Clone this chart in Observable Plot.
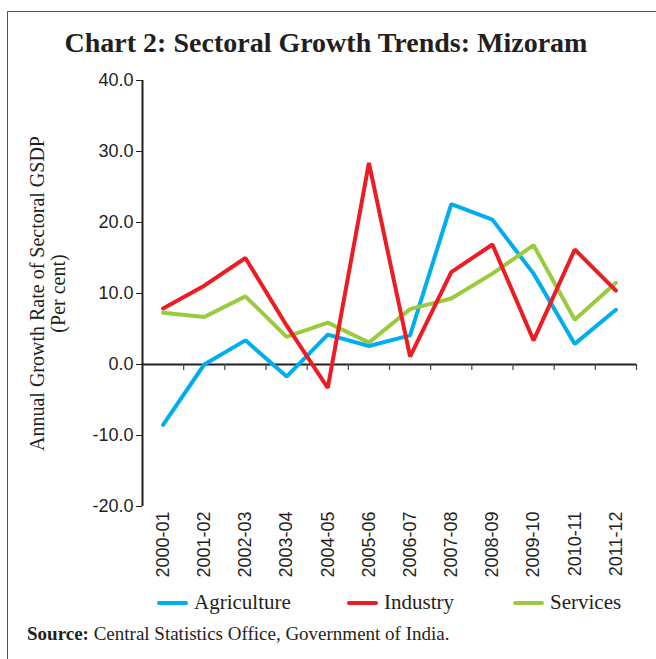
<!DOCTYPE html>
<html><head><meta charset="utf-8">
<script src="https://cdn.jsdelivr.net/npm/d3@7"></script>
<script src="https://cdn.jsdelivr.net/npm/@observablehq/plot@0.6"></script>
<style>
body{margin:0;background:#fff;}
#wrap{position:relative;width:656px;height:659px;overflow:hidden;}
#frame{position:absolute;left:7px;top:11px;width:700px;height:700px;border-top:1.5px solid #555;border-left:1.5px solid #555;}
#title{position:absolute;top:27px;left:0;width:652px;text-align:center;font:bold 28px "Liberation Serif";color:#231f20;}
#chart{position:absolute;left:0;top:0;}
#legend{position:absolute;top:590px;left:0;width:656px;height:28px;font:21px "Liberation Serif";color:#231f20;}
.item{position:absolute;top:0;display:flex;align-items:center;}
.sw{display:inline-block;width:31px;height:4px;border-radius:2px;margin-right:6px;}
#source{position:absolute;top:623px;left:27px;font:19px "Liberation Serif";color:#231f20;white-space:nowrap;}
</style>
</head><body>
<div id="wrap">
<div id="frame"></div>
<div id="title">Chart 2: Sectoral Growth Trends: Mizoram</div>
<div id="chart"></div>
<div id="legend"></div>
<div id="source"><b>Source:</b> Central Statistics Office, Government of India.</div>
</div>
<script>
const years = ["2000-01","2001-02","2002-03","2003-04","2004-05","2005-06","2006-07","2007-08","2008-09","2009-10","2010-11","2011-12"];
const agriculture = [-8.5, 0.0, 3.4, -1.7, 4.2, 2.6, 4.1, 22.6, 20.4, 12.8, 2.9, 7.7];
const industry = [7.9, 11.1, 15.0, 5.5, -3.3, 28.4, 1.1, 13.0, 16.9, 3.4, 16.2, 10.4];
const services = [7.3, 6.7, 9.6, 3.9, 5.9, 3.1, 7.8, 9.3, 12.8, 16.8, 6.3, 11.5];
const seriesNames = ["Agriculture", "Industry", "Services"];
const seriesColors = ["#00aeef", "#ed1c24", "#9acb3c"];
const yTicks = [-20, -10, 0, 10, 20, 30, 40];
const yTitle = "Annual Growth Rate of Sectoral GSDP\n(Per cent)";

const seriesValues = [agriculture, industry, services];
const rows = [];
seriesNames.forEach((name, s) => {
  seriesValues[s].forEach((v, i) => rows.push({series: name, i, year: years[i], value: v}));
});
const idx = d3.range(years.length);
const bounds = idx.map(i => i + 0.5);
const drawOrder = ["Agriculture", "Services", "Industry"];

const chart = Plot.plot({
  width: 656,
  height: 590,
  marginTop: 80,
  marginBottom: 84,
  marginLeft: 142,
  marginRight: 20,
  style: {fontFamily: "Liberation Sans", fontSize: "18px", color: "#231f20", background: "transparent"},
  x: {domain: [-0.5, years.length - 0.5], ticks: idx, tickFormat: i => years[i], tickRotate: -90, tickSize: 0, tickPadding: 5, label: null},
  y: {domain: [-20, 40], ticks: yTicks, tickFormat: d => d.toFixed(1), tickSize: 6, tickPadding: 3, label: null},
  color: {domain: seriesNames, range: seriesColors},
  marks: [
    Plot.ruleX([-0.5], {stroke: "#231f20", strokeWidth: 2}),
    Plot.ruleY([0], {stroke: "#231f20", strokeWidth: 2}),
    Plot.ruleX(bounds, {x: d => d, y1: 0, y2: 0, insetBottom: -6, stroke: "#444", strokeWidth: 1.2}),
    ...drawOrder.map(name => Plot.line(rows.filter(r => r.series === name), {x: "i", y: "value", stroke: "series", strokeWidth: 4, strokeLinejoin: "miter", strokeLinecap: "round"})),
    Plot.text([yTitle], {frameAnchor: "left", textAnchor: "middle", lineAnchor: "middle", rotate: -90, dx: -95, fontFamily: "Liberation Serif", fontSize: 20, fill: "#231f20", lineHeight: 1.05})
  ]
});
document.getElementById("chart").appendChild(chart);

const legend = document.getElementById("legend");
const legendX = [157, 347, 513];
seriesNames.forEach((name, s) => {
  const it = document.createElement("div");
  it.className = "item";
  it.style.left = legendX[s] + "px";
  const sw = document.createElement("span");
  sw.className = "sw";
  sw.style.background = seriesColors[s];
  it.appendChild(sw);
  it.appendChild(document.createTextNode(name));
  legend.appendChild(it);
});
</script>
</body></html>
